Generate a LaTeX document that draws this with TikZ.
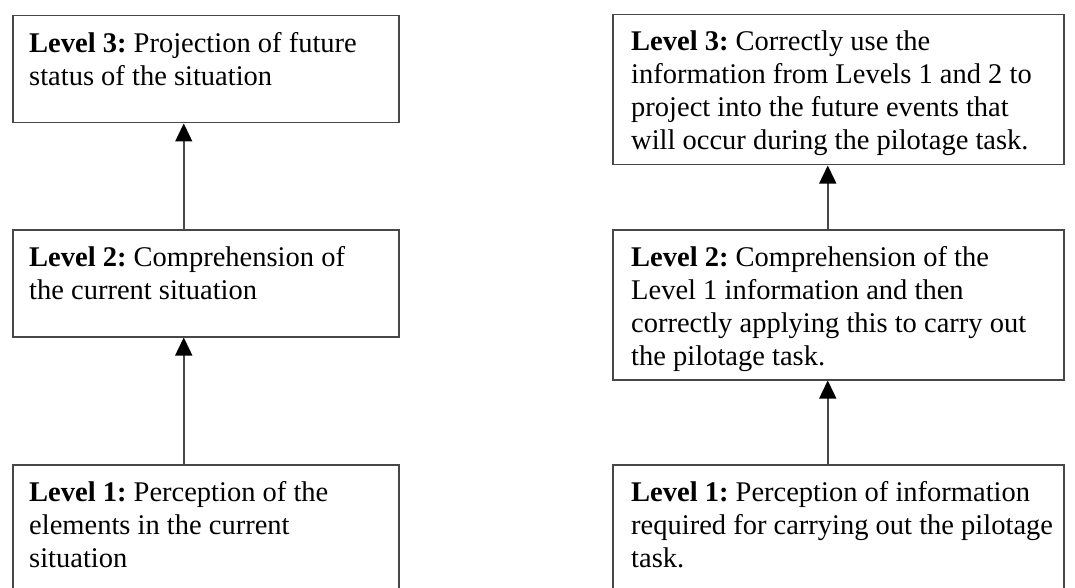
\documentclass[tikz,border=0pt]{standalone}
\usepackage{fontspec}
\setmainfont{Liberation Serif}
\usetikzlibrary{arrows.meta}
\frenchspacing
\begin{document}
\begin{tikzpicture}[x=1pt,y=-1pt,
  lbox/.style={draw=black!72, line width=1.5pt, inner sep=0pt, anchor=north west, minimum width=386pt},
  rbox/.style={draw=black!72, line width=1.5pt, inner sep=0pt, anchor=north west, minimum width=451pt},
  txt/.style={anchor=north west, inner sep=0pt, align=left, font=\fontsize{28.5pt}{33pt}\selectfont},
  up/.style={draw=black!72, line width=1.5pt, -{Triangle[width=17pt,length=18pt,color=black]}}]
\useasboundingbox (0,0) rectangle (1075,588);
\clip (0,0) rectangle (1075,588);
% left column
\node[lbox, minimum height=107pt] (L3) at (12,15) {};
\node[lbox, minimum height=107pt] (L2) at (12,229) {};
\node[lbox, minimum height=150pt] (L1) at (12,464) {};
\node[txt] (tL3) at ([shift={(17pt,-17pt)}]L3.north west) {\textbf{Level 3:} Projection of future\\status of the situation};
\node[txt] (tL2) at ([shift={(17pt,-17pt)}]L2.north west) {\textbf{Level 2:} Comprehension of\\the current situation};
\node[txt] (tL1) at ([shift={(17pt,-17pt)}]L1.north west) {\textbf{Level 1:} Perception of the\\elements in the current\\situation};
% right column
\node[rbox, minimum height=150pt] (R3) at (612,14) {};
\node[rbox, minimum height=150pt] (R2) at (612,229) {};
\node[rbox, minimum height=150pt] (R1) at (612,464) {};
\node[txt] (tR3) at ([shift={(19pt,-17pt)}]R3.north west) {\textbf{Level 3:} Correctly use the\\information from Levels 1 and 2 to\\project into the future events that\\will occur during the pilotage task.};
\node[txt] (tR2) at ([shift={(19pt,-17pt)}]R2.north west) {\textbf{Level 2:} Comprehension of the\\Level 1 information and then\\correctly applying this to carry out\\the pilotage task.};
\node[txt] (tR1) at ([shift={(19pt,-17pt)}]R1.north west) {\textbf{Level 1:} Perception of information\\required for carrying out the pilotage\\task.};
% arrows
\draw[up] ([xshift=-22pt]L2.north) -- ([xshift=-22pt]L3.south);
\draw[up] ([xshift=-22pt]L1.north) -- ([xshift=-22pt]L2.south);
\draw[up] ([xshift=-10.5pt]R2.north) -- ([xshift=-10.5pt]R3.south);
\draw[up] ([xshift=-10.5pt]R1.north) -- ([xshift=-10.5pt]R2.south);
\end{tikzpicture}
\end{document}
